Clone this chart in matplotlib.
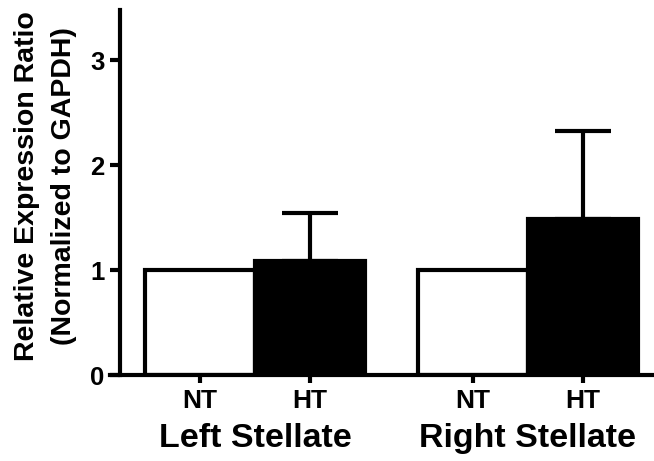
import matplotlib.pyplot as plt
import numpy as np

plt.rcParams['font.family'] = ['Liberation Sans', 'DejaVu Sans']
plt.rcParams['font.weight'] = 'bold'

# data
groups = ["Left Stellate", "Right Stellate"]
conditions = ["NT", "HT"]
means = [1.0, 1.09, 1.0, 1.49]
err_up = [0.0, 0.45, 0.0, 0.84]
colors = ["white", "black", "white", "black"]
positions = [0, 1, 2.48, 3.48]

fig = plt.figure(figsize=(6.54, 4.61), dpi=100)
ax = fig.add_axes([110 / 654, 1 - 375 / 461, 1 - 110 / 654, 365 / 461])

lw = 3.0
ax.bar(positions, means, width=1.0, color=colors, edgecolor="black", linewidth=lw, zorder=2)
for x, m, e in zip(positions, means, err_up):
    if e > 0:
        ax.errorbar(x, m, yerr=[[0], [e]], fmt="none", ecolor="black",
                    elinewidth=lw, capsize=20, capthick=lw, zorder=1)

ax.set_xlim(-0.818, 4.13)
ax.set_ylim(0, 3.48)
ax.set_yticks([0, 1, 2, 3])
ax.set_xticks(positions)
ax.set_xticklabels(conditions * 2)

ax.spines['top'].set_visible(False)
ax.spines['right'].set_visible(False)
ax.spines['left'].set_position(('data', -0.727))
ax.spines['left'].set_linewidth(lw)
ax.spines['bottom'].set_linewidth(lw)
ax.tick_params(axis='y', length=7, width=lw, labelsize=18.5, pad=4)
ax.tick_params(axis='x', length=6, width=lw, labelsize=19, pad=4)

ax.set_ylabel("Relative Expression Ratio\n(Normalized to GAPDH)", fontsize=20.5,
              fontweight='bold', linespacing=1.55)
ax.yaxis.set_label_coords(-0.061, 0.518)

for g, i in zip(groups, [0, 2]):
    cx = (positions[i] + positions[i + 1]) / 2
    ax.text(cx, -0.61, g, ha='center', va='center', fontsize=24.5, fontweight='bold',
            transform=ax.transData, clip_on=False)

fig.savefig("out.png", dpi=100)
